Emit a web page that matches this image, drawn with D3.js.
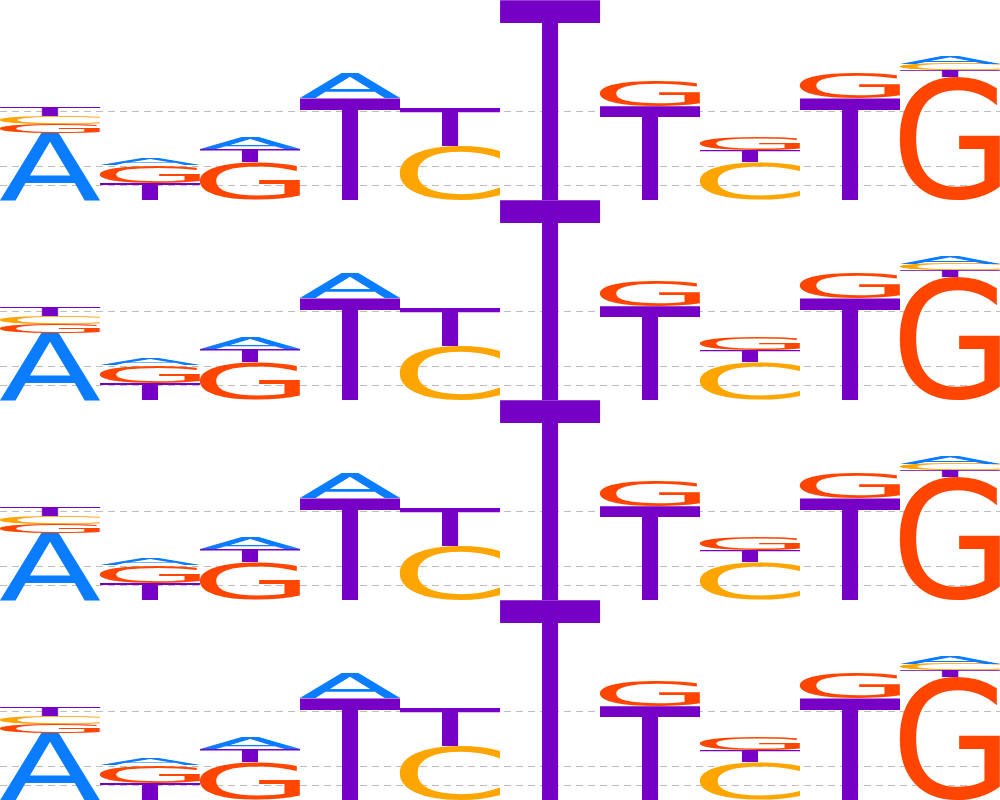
<!DOCTYPE html>
<html><head><meta charset="utf-8">
<script src="https://cdn.jsdelivr.net/npm/d3@7"></script>
<style>html,body{margin:0;padding:0;background:#fff;overflow:hidden}</style>
</head><body><svg id="chart" width="1000" height="800"></svg>
<script>
// ---- data ----
const positions = [1,2,3,4,5,6,7,8,9,10];
const bases = ["A","C","G","T"];
// information (bits) carried by each base at each position
const bitsA = [0.67,0.07,0.11,0.25,0,   0,   0,   0,   0,   0.08];
const bitsC = [0.08,0,   0,   0,   0.54,0,   0,   0.38,0,   0.065];
const bitsG = [0.09,0.18,0.38,0,   0,   0,   0.26,0.13,0.25,1.23];
const bitsT = [0.09,0.17,0.13,1.02,0.38,2.0, 0.94,0.12,1.02,0.07];
// stacking order, bottom to top
const stackOrder = ["AGCT","TGA","GTA","TA","CT","T","TG","CTG","TG","GTCA"];
const gridBits = [0.145,0.335,0.885];
const rows = [0,1,2,3];
const yMax = 2;

// ---- style ----
const W = 1000, H = 800, rowH = H / rows.length;
const baseColors = {A:"#0a7cff", C:"#ffa500", G:"#ff4500", T:"#7700c6"};
const fontFamily = "DejaVu Sans";
const FS = 600; // large size for precise ink metrics

const bitsBy = {A: bitsA, C: bitsC, G: bitsG, T: bitsT};

const svg = d3.select("#chart");
const x = d3.scaleBand().domain(positions).range([0, W]).padding(0);
const y = d3.scaleLinear().domain([0, yMax]).range([rowH, 0]);

// glyph ink metrics by scanning rendered pixels
const CW = 1000, CH = 1000, OX = 200, OY = 800;
const cv = document.createElement("canvas");
cv.width = CW; cv.height = CH;
const ctx = cv.getContext("2d", {willReadFrequently: true});
const metrics = {};
bases.forEach(b => {
  ctx.clearRect(0, 0, CW, CH);
  ctx.font = `${FS}px '${fontFamily}'`;
  ctx.fillStyle = "#000";
  ctx.textBaseline = "alphabetic";
  ctx.fillText(b, OX, OY);
  const data = ctx.getImageData(0, 0, CW, CH).data;
  let minX = CW, maxX = -1, minY = CH, maxY = -1;
  for (let yy = 0; yy < CH; yy++) {
    for (let xx = 0; xx < CW; xx++) {
      if (data[(yy * CW + xx) * 4 + 3] > 127) {
        if (xx < minX) minX = xx;
        if (xx > maxX) maxX = xx;
        if (yy < minY) minY = yy;
        if (yy > maxY) maxY = yy;
      }
    }
  }
  metrics[b] = {L: OX - minX, R: maxX + 1 - OX, A: OY - minY, D: maxY + 1 - OY};
});

// build stacks
const stacks = positions.map((p, i) => {
  let acc = 0;
  return stackOrder[i].split("").map(b => {
    const v = bitsBy[b][i];
    const item = {pos: p, base: b, y0: acc, y1: acc + v};
    acc += v;
    return item;
  }).filter(d => d.y1 - d.y0 > 0);
});

// gridlines
const grid = svg.append("g");
rows.forEach(r => {
  grid.selectAll(null).data(gridBits).enter().append("line")
    .attr("x1", 0).attr("x2", W)
    .attr("y1", d => r * rowH + y(d)).attr("y2", d => r * rowH + y(d))
    .attr("stroke", "#bdbdbd").attr("stroke-width", 1)
    .attr("stroke-dasharray", "7,5");
});

rows.forEach(r => {
  const g = svg.append("g").attr("transform", `translate(0,${r * rowH})`);
  g.selectAll("text").data(stacks.flat()).enter().append("text")
    .text(d => d.base)
    .attr("font-family", fontFamily)
    .attr("font-size", FS)
    .attr("fill", d => baseColors[d.base])
    .attr("transform", d => {
      const m = metrics[d.base];
      const x0 = x(d.pos), w = x.bandwidth();
      const top = y(d.y1), h = y(d.y0) - y(d.y1);
      const sx = w / (m.L + m.R), sy = h / (m.A + m.D);
      return `translate(${x0},${top}) scale(${sx},${sy}) translate(${m.L},${m.A})`;
    });
});
</script>
</body></html>
